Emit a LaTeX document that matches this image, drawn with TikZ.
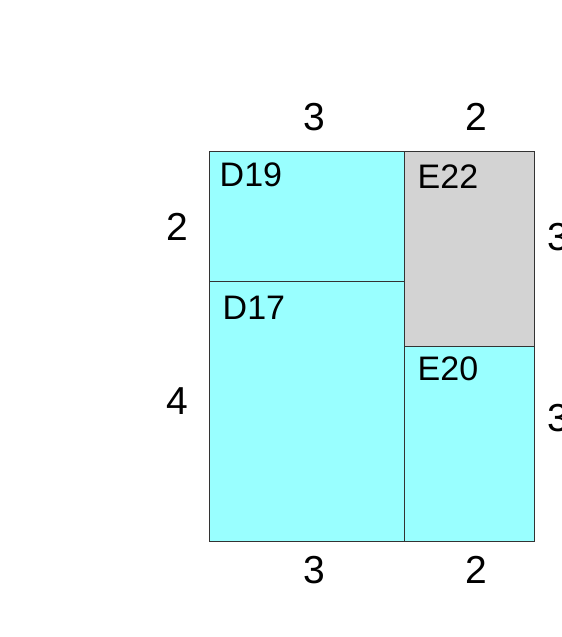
\documentclass[tikz,border=0pt]{standalone}
\usepackage{fontspec}
\setmainfont{Liberation Sans}
\definecolor{cy}{HTML}{99FFFF}
\definecolor{gr}{HTML}{D3D3D3}
\definecolor{edge}{HTML}{333333}
\begin{document}
\begin{tikzpicture}[x=1pt,y=-1pt,
  cell/.style={draw=edge,line width=0.9pt},
  inner/.style={anchor=north west,inner sep=0pt,font=\fontsize{34}{34}\selectfont},
  dim/.style={inner sep=0pt,font=\fontsize{39}{39}\selectfont}]
\useasboundingbox (0,0) rectangle (562,637);
\fill[white] (0,0) rectangle (562,637);
\filldraw[cell,fill=cy] (209,151) rectangle (404,281);
\filldraw[cell,fill=cy] (209,281) rectangle (404,541);
\filldraw[cell,fill=gr] (404,151) rectangle (534,346);
\filldraw[cell,fill=cy] (404,346) rectangle (534,541);
\node[inner] (d19) at (219.5,163) {D19};
\node[inner] (d17) at (222.5,295.5) {D17};
\node[inner] (e22) at (417.5,165) {E22};
\node[inner] (e20) at (417.5,357) {E20};
\node[dim] (t3) at (314,117) {3};
\node[dim] (t2) at (476.5,117) {2};
\node[dim] (l2) at (177,227) {2};
\node[dim] (l4) at (177,401) {4};
\node[dim] (r3a) at (558,237) {3};
\node[dim] (r3b) at (558,418) {3};
\node[dim] (b3) at (314,570) {3};
\node[dim] (b2) at (476.5,570) {2};
\end{tikzpicture}
\end{document}
